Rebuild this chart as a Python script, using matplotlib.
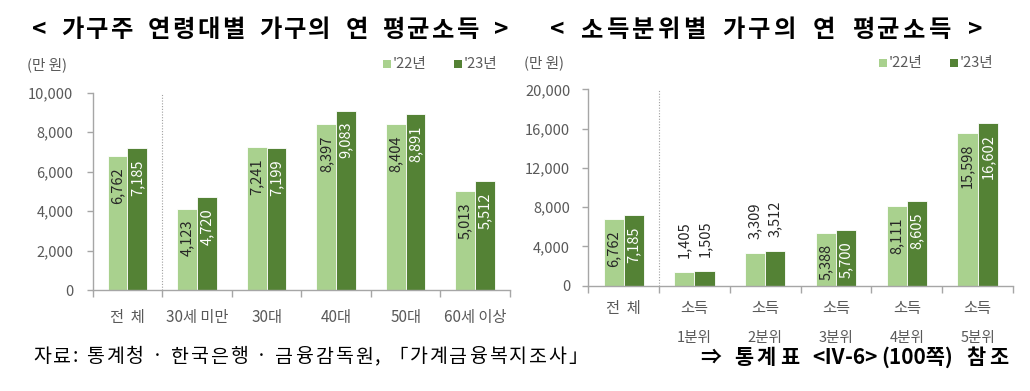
import matplotlib
matplotlib.use("Agg")
import matplotlib.pyplot as plt
import numpy as np
from matplotlib.patches import Rectangle

plt.rcParams['font.family'] = ['Noto Sans CJK KR', 'DejaVu Sans']

# ---- data ----
age_categories = ['전  체', '30세 미만', '30대', '40대', '50대', '60세 이상']
age_2022 = [6762, 4123, 7241, 8397, 8404, 5013]
age_2023 = [7185, 4720, 7199, 9083, 8891, 5512]

quint_top = ['전  체', '소득', '소득', '소득', '소득', '소득']
quint_bottom = ['', '1분위', '2분위', '3분위', '4분위', '5분위']
quint_2022 = [6762, 1405, 3309, 5388, 8111, 15598]
quint_2023 = [7185, 1505, 3512, 5700, 8605, 16602]

series_labels = ["'22년", "'23년"]
title_left = '< 가구주 연령대별 가구의 연 평균소득 >'
title_right = '< 소득분위별 가구의 연 평균소득 >'
unit_label = '(만 원)'
source_text = '자료: 통계청 · 한국은행 · 금융감독원, 「가계금융복지조사」'
ref_units = ['⇒', ' ', '통', '계', '표', ' ', '<Ⅳ-6>', '(100쪽)', ' ', '참', '조']

C_LIGHT = '#A9D18E'
C_DARK = '#548235'
AX_COL = '#A6A6A6'
TXT_COL = '#595959'

W, H = 1030, 391
fig = plt.figure(figsize=(W / 100, H / 100), dpi=100)
renderer = fig.canvas.get_renderer()


def px(x0, y0, x1, y1):
    return [x0 / W, 1 - y1 / H, (x1 - x0) / W, (y1 - y0) / H]


def tracked_text(units, x0, x1, y, space_px, **kw):
    """Lay text units out one by one so that together they span x0..x1 pixels."""
    items = []
    for u in units:
        if u == ' ':
            items.append((None, space_px))
        else:
            t = fig.text(0, 1 - y / H, u, ha='left', va='center', **kw)
            w = t.get_window_extent(renderer).width
            items.append((t, w))
    total = sum(w for _, w in items)
    gap = (x1 - x0 - total) / (len(items) - 1)
    x = x0
    for t, w in items:
        if t is not None:
            t.set_x(x / W)
        x += w + gap


def draw(ax, cats, v22, v23, ymax, ystep, outside_idx, ypad):
    n = len(cats)
    x = np.arange(n)
    bw = 0.285
    ax.bar(x - bw / 2, v22, bw, color=C_LIGHT, edgecolor='white', linewidth=0.6, zorder=2)
    ax.bar(x + bw / 2, v23, bw, color=C_DARK, edgecolor='white', linewidth=0.6, zorder=2)
    ax.set_xlim(-0.5, n - 0.5)
    ax.set_ylim(0, ymax)
    ax.set_yticks(np.arange(0, ymax + 1, ystep))
    ax.set_yticklabels([f'{v:,.0f}' for v in np.arange(0, ymax + 1, ystep)])
    ax.set_xticks(x)
    ax.set_xticklabels(cats)
    ax.set_xticks(np.arange(-0.5, n, 1.0), minor=True)
    ax.tick_params(axis='x', which='major', length=0, pad=14, labelsize=11, labelcolor=TXT_COL)
    ax.tick_params(axis='x', which='minor', length=5, direction='out', color=AX_COL, width=1)
    ax.tick_params(axis='y', length=4, direction='out', color=AX_COL, width=1,
                   labelsize=10.5, labelcolor=TXT_COL, pad=ypad)
    for s in ['top', 'right']:
        ax.spines[s].set_visible(False)
    for s in ['left', 'bottom']:
        ax.spines[s].set_color(AX_COL)
        ax.spines[s].set_linewidth(1)
    ax.axvline(0.5, color='#A0A0A0', linestyle=(0, (1, 1.5)), linewidth=0.8, zorder=1)
    for i in range(n):
        for off, v, col in ((-bw / 2, v22[i], '#262626'), (bw / 2, v23[i], 'white')):
            if i in outside_idx:
                ax.annotate(f'{v:,}', (x[i] + off, v), xytext=(0, 10), textcoords='offset points',
                            rotation=90, ha='center', va='bottom', fontsize=10.5, color='#262626')
            else:
                ax.annotate(f'{v:,}', (x[i] + off, v), xytext=(0, -8), textcoords='offset points',
                            rotation=90, ha='center', va='top', fontsize=10.5, color=col)


axL = fig.add_axes(px(92.7, 92.5, 510, 290))
draw(axL, age_categories, age_2022, age_2023, 10000, 2000, [], 10)
axR = fig.add_axes(px(588.3, 89.3, 1013, 285.7))
draw(axR, quint_top, quint_2022, quint_2023, 20000, 4000, [1, 2], 9)
axR.tick_params(axis='x', which='major', pad=10)
for i, lab in enumerate(quint_bottom):
    if lab:
        axR.annotate(lab, (i, 0), xycoords=('data', 'axes fraction'), xytext=(0, -38),
                     textcoords='offset points', ha='center', va='center', fontsize=10.5, color=TXT_COL)

# titles
tkw = dict(fontsize=17.5, fontweight='bold', color='black')
tracked_text(list(title_left), 32, 508, 30, 10, **tkw)
tracked_text(list(title_right), 550, 982, 30, 10, **tkw)

# unit labels
fig.text(27 / W, 1 - 65 / H, unit_label, ha='left', va='center', fontsize=10.5, color=TXT_COL)
fig.text(524 / W, 1 - 63 / H, unit_label, ha='left', va='center', fontsize=10.5, color=TXT_COL)


def legend(x0, y):
    for xx, c, lab in ((x0, C_LIGHT, series_labels[0]), (x0 + 71, C_DARK, series_labels[1])):
        fig.patches.append(Rectangle((xx / W, 1 - (y + 4) / H), 8 / W, 8 / H, transform=fig.transFigure,
                                     facecolor=c, edgecolor='none'))
        fig.text((xx + 10) / W, 1 - y / H, lab, ha='left', va='center', fontsize=10.5, color=TXT_COL)


legend(383, 64)
legend(879, 63)

# footer
tracked_text(list(source_text), 33, 588, 357, 4, fontsize=14, color='black')
tracked_text(ref_units, 700, 1008, 357, 6, fontsize=15, fontweight='bold', color='black')

fig.savefig('out.png', dpi=100)
